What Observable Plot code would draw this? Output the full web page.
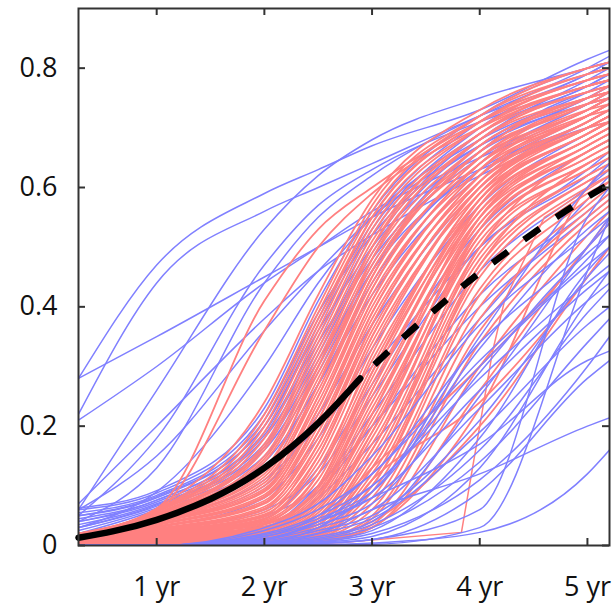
<!DOCTYPE html>
<html><head><meta charset="utf-8">
<script src="https://cdn.jsdelivr.net/npm/d3@7"></script>
<script src="https://cdn.jsdelivr.net/npm/@observablehq/plot@0.6"></script>
<style>body{margin:0;background:#fff}#chart svg{display:block}</style>
</head><body><div id="chart"></div>
<script>
// x in years; each curve's values are read at these knots
const knots = [0.274, 1, 2, 2.5, 3, 4, 5, 5.205];
const xTicks = [1, 2, 3, 4, 5];
const xTickLabels = ["1 yr", "2 yr", "3 yr", "4 yr", "5 yr"];
const yTicks = [0, 0.2, 0.4, 0.6, 0.8];
const yTickLabels = ["0", "0.2", "0.4", "0.6", "0.8"];

const redCurves = [
  [0.02,0.062,0.41,0.53,0.6,0.71,0.78,0.79],
  [0.019,0.058,0.36,0.5,0.59,0.7,0.77,0.78],
  [0.02,0.062,0.24,0.42,0.58,0.73,0.8,0.81],
  [0.02,0.06,0.22,0.40,0.57,0.72,0.79,0.8],
  [0.019,0.059,0.21,0.39,0.56,0.72,0.8,0.81],
  [0.019,0.058,0.2,0.38,0.55,0.71,0.78,0.79],
  [0.018,0.057,0.19,0.37,0.55,0.71,0.79,0.8],
  [0.018,0.056,0.18,0.36,0.54,0.7,0.77,0.78],
  [0.017,0.054,0.17,0.35,0.53,0.7,0.78,0.79],
  [0.017,0.053,0.165,0.34,0.52,0.69,0.76,0.77],
  [0.016,0.052,0.16,0.33,0.51,0.69,0.77,0.78],
  [0.016,0.051,0.15,0.32,0.5,0.68,0.75,0.76],
  [0.015,0.05,0.145,0.31,0.49,0.68,0.76,0.77],
  [0.015,0.049,0.14,0.3,0.48,0.67,0.75,0.76],
  [0.015,0.048,0.13,0.29,0.47,0.66,0.74,0.76],
  [0.014,0.046,0.12,0.28,0.46,0.67,0.75,0.77],
  [0.014,0.045,0.125,0.3,0.5,0.69,0.77,0.78],
  [0.014,0.044,0.115,0.27,0.46,0.65,0.73,0.75],
  [0.013,0.043,0.11,0.26,0.45,0.66,0.75,0.76],
  [0.013,0.042,0.105,0.27,0.48,0.68,0.76,0.77],
  [0.013,0.041,0.1,0.25,0.44,0.64,0.72,0.74],
  [0.012,0.04,0.095,0.24,0.43,0.65,0.74,0.75],
  [0.012,0.039,0.092,0.25,0.45,0.66,0.75,0.76],
  [0.012,0.038,0.09,0.23,0.42,0.63,0.72,0.74],
  [0.011,0.036,0.085,0.22,0.41,0.64,0.73,0.75],
  [0.011,0.035,0.082,0.23,0.43,0.65,0.74,0.76],
  [0.011,0.034,0.08,0.21,0.4,0.62,0.71,0.73],
  [0.01,0.032,0.075,0.2,0.39,0.63,0.73,0.74],
  [0.01,0.031,0.072,0.21,0.41,0.64,0.74,0.75],
  [0.01,0.03,0.07,0.19,0.38,0.61,0.7,0.72],
  [0.009,0.028,0.065,0.18,0.37,0.62,0.72,0.73],
  [0.009,0.027,0.062,0.19,0.39,0.63,0.73,0.75],
  [0.009,0.026,0.06,0.17,0.36,0.6,0.7,0.72],
  [0.008,0.025,0.056,0.16,0.35,0.61,0.71,0.73],
  [0.008,0.024,0.052,0.15,0.34,0.59,0.69,0.71],
  [0.008,0.023,0.05,0.17,0.37,0.62,0.72,0.74],
  [0.007,0.022,0.048,0.14,0.33,0.6,0.7,0.72],
  [0.007,0.021,0.045,0.13,0.31,0.58,0.69,0.71],
  [0.007,0.02,0.044,0.15,0.35,0.61,0.72,0.74],
  [0.007,0.02,0.042,0.12,0.3,0.59,0.7,0.71],
  [0.006,0.019,0.04,0.11,0.29,0.57,0.68,0.7],
  [0.006,0.018,0.038,0.12,0.32,0.6,0.71,0.73],
  [0.006,0.018,0.037,0.1,0.28,0.58,0.69,0.71],
  [0.006,0.017,0.035,0.095,0.27,0.56,0.67,0.69],
  [0.005,0.016,0.032,0.09,0.26,0.57,0.68,0.7],
  [0.005,0.015,0.031,0.1,0.29,0.59,0.7,0.72],
  [0.005,0.015,0.03,0.085,0.25,0.55,0.66,0.68],
  [0.005,0.014,0.028,0.08,0.24,0.56,0.68,0.7],
  [0.004,0.013,0.026,0.075,0.23,0.54,0.66,0.68],
  [0.004,0.012,0.025,0.08,0.26,0.58,0.7,0.72],
  [0.004,0.012,0.024,0.07,0.22,0.55,0.67,0.69],
  [0.004,0.011,0.022,0.065,0.21,0.53,0.65,0.67],
  [0.004,0.01,0.02,0.06,0.2,0.54,0.66,0.68],
  [0.003,0.01,0.018,0.055,0.19,0.52,0.64,0.66],
  [0.003,0.009,0.018,0.06,0.22,0.57,0.69,0.71],
  [0.003,0.009,0.017,0.05,0.18,0.53,0.65,0.67],
  [0.003,0.008,0.016,0.045,0.17,0.51,0.63,0.65],
  [0.003,0.008,0.015,0.04,0.16,0.52,0.64,0.66],
  [0.003,0.007,0.014,0.045,0.19,0.55,0.68,0.7],
  [0.003,0.007,0.014,0.035,0.15,0.5,0.63,0.65],
  [0.002,0.007,0.013,0.03,0.14,0.49,0.62,0.64],
  [0.002,0.006,0.012,0.035,0.16,0.53,0.67,0.69],
  [0.002,0.006,0.012,0.028,0.13,0.48,0.62,0.64],
  [0.002,0.006,0.011,0.025,0.12,0.47,0.61,0.63],
  [0.002,0.005,0.01,0.03,0.13,0.5,0.66,0.68],
  [0.002,0.005,0.01,0.022,0.11,0.46,0.61,0.63],
  [0.002,0.005,0.009,0.02,0.1,0.45,0.6,0.62],
  [0.002,0.004,0.008,0.018,0.09,0.43,0.59,0.61],
  [0.001,0.004,0.008,0.02,0.1,0.47,0.64,0.66],
  [0.001,0.004,0.007,0.016,0.08,0.42,0.58,0.61],
  [0.001,0.003,0.006,0.014,0.07,0.4,0.57,0.6],
  [0.001,0.003,0.005,0.012,0.06,0.38,0.56,0.59],
  [0.001,0.002,0.004,0.01,0.05,0.36,0.55,0.58],
  [0.001,0.002,0.004,0.009,0.045,0.34,0.54,0.57],
  [0,0.001,0.003,0.008,0.035,0.3,0.52,0.56],
  [0,0.001,0.003,0.007,0.03,0.26,0.5,0.54],
  [0,0.001,0.002,0.006,0.11,0.24,0.45,0.5],
  [0,0.001,0.004,0.04,0.13,0.3,0.5,0.55],
  [0,0,0.002,0.01,0.04,0.2,0.45,0.5],
  [0,0,0.001,0.005,0.03,0.23,0.6,0.64]
];

// early / high blue curves, drawn beneath the red ones
const blueCurves = [
  [0.28,0.47,0.59,0.63,0.67,0.73,0.815,0.83],
  [0.22,0.44,0.56,0.6,0.64,0.72,0.79,0.81],
  [0.28,0.35,0.45,0.5,0.55,0.63,0.7,0.71],
  [0.21,0.3,0.44,0.5,0.56,0.65,0.73,0.75],
  [0.06,0.26,0.53,0.62,0.68,0.75,0.8,0.81],
  [0.04,0.13,0.44,0.55,0.62,0.72,0.79,0.8],
  [0.05,0.18,0.47,0.57,0.63,0.71,0.77,0.78],
  [0.06,0.15,0.36,0.46,0.55,0.67,0.75,0.77],
  [0.07,0.2,0.38,0.46,0.52,0.62,0.7,0.72],
  [0.03,0.09,0.3,0.44,0.55,0.68,0.76,0.78],
  [0.02,0.06,0.14,0.27,0.44,0.64,0.74,0.76],
  [0.025,0.063,0.15,0.29,0.46,0.66,0.76,0.77],
  [0.03,0.066,0.16,0.3,0.47,0.67,0.75,0.77],
  [0.035,0.07,0.17,0.32,0.49,0.68,0.78,0.8],
  [0.04,0.073,0.18,0.33,0.5,0.69,0.77,0.79],
  [0.045,0.076,0.19,0.35,0.52,0.7,0.79,0.81],
  [0.05,0.08,0.2,0.36,0.5,0.66,0.74,0.76],
  [0.055,0.084,0.21,0.38,0.54,0.71,0.8,0.82],
  [0.06,0.088,0.22,0.39,0.52,0.67,0.74,0.75],
  [0.063,0.092,0.23,0.41,0.56,0.72,0.8,0.81],
  [0.03,0.068,0.165,0.31,0.46,0.63,0.71,0.73],
  [0.04,0.076,0.185,0.34,0.48,0.65,0.73,0.75],
  [0.05,0.082,0.2,0.37,0.53,0.69,0.77,0.79],
  [0.015,0.05,0.13,0.27,0.42,0.62,0.72,0.74],
  [0.01,0.04,0.1,0.22,0.37,0.6,0.71,0.73],
  [0.012,0.045,0.11,0.2,0.3,0.5,0.63,0.66],
  [0.008,0.03,0.08,0.18,0.33,0.57,0.69,0.71],
  [0.006,0.025,0.06,0.12,0.25,0.5,0.62,0.65],
  [0.005,0.02,0.05,0.1,0.22,0.46,0.6,0.63],
  [0.004,0.015,0.045,0.13,0.27,0.53,0.66,0.68],
  [0.003,0.01,0.035,0.09,0.2,0.42,0.56,0.59],
  [0.003,0.01,0.03,0.1,0.2,0.4,0.55,0.58],
  [0.002,0.008,0.025,0.08,0.17,0.38,0.58,0.62]
];

// late blue curves (flat at zero early), which show on top of the red band
const blueOverCurves = [
  [0,0,0.03,0.07,0.15,0.37,0.52,0.55],
  [0,0,0.025,0.06,0.12,0.34,0.5,0.54],
  [0,0,0.02,0.05,0.1,0.3,0.47,0.5],
  [0,0,0.018,0.045,0.09,0.33,0.53,0.56],
  [0,0,0.015,0.04,0.08,0.26,0.43,0.46],
  [0,0,0.012,0.035,0.07,0.29,0.49,0.52],
  [0,0,0.01,0.03,0.06,0.23,0.41,0.44],
  [0,0,0.008,0.025,0.05,0.21,0.45,0.49],
  [0,0,0.006,0.02,0.045,0.19,0.37,0.4],
  [0,0,0.005,0.015,0.04,0.25,0.5,0.55],
  [0,0,0.004,0.012,0.035,0.16,0.39,0.43],
  [0,0,0.003,0.01,0.03,0.14,0.34,0.38],
  [0,0,0.002,0.008,0.025,0.18,0.46,0.5],
  [0,0,0.002,0.006,0.02,0.11,0.3,0.35],
  [0,0,0.001,0.005,0.015,0.13,0.41,0.46],
  [0,0,0.001,0.004,0.01,0.09,0.28,0.31],
  [0,0,0.003,0.02,0.06,0.12,0.2,0.214],
  [0,0,0.01,0.04,0.08,0.17,0.31,0.326],
  [0,0,0,0.001,0.004,0.022,0.12,0.16],
  [0,0,0,0.001,0.002,0.03,0.46,0.55],
  [0,0,0,0.003,0.01,0.06,0.55,0.6],
  [0,0,0.015,0.05,0.12,0.31,0.48,0.52],
  [0,0,0.01,0.04,0.1,0.28,0.44,0.47],
  [0,0,0.005,0.03,0.09,0.35,0.6,0.64]
];

// one red curve with a late, abrupt rise (own sample points)
const redJumpX = [0.274, 2.0, 2.73, 3.83, 4.12, 4.23, 4.6, 5.205];
const redJumpY = [0, 0, 0.005, 0.022, 0.326, 0.41, 0.55, 0.62];

// mean curve: solid part, then dashed extrapolation
const meanSolidX = [0.274, 0.6, 1, 1.5, 2, 2.5, 2.89];
const meanSolidY = [0.013, 0.024, 0.043, 0.078, 0.13, 0.205, 0.28];
const meanDashX = [2.89, 3.3, 3.7, 4, 4.5, 5, 5.205];
const meanDashY = [0.28, 0.35, 0.413, 0.457, 0.524, 0.584, 0.605];

const RED = "#ff8080", BLUE = "#8080ff";

function toRows(curves, prefix) {
  const out = [];
  curves.forEach((vals, i) => vals.forEach((v, k) => out.push({id: prefix + i, x: knots[k], y: v})));
  return out;
}
const blueRows = toRows(blueCurves, "b");
const redRows = toRows(redCurves, "r");
const blueOverRows = toRows(blueOverCurves, "o");
const jump = redJumpX.map((x, i) => ({x, y: redJumpY[i]}));
const meanSolid = meanSolidX.map((x, i) => ({x, y: meanSolidY[i]}));
const meanDash = meanDashX.map((x, i) => ({x, y: meanDashY[i]}));

const innerW = 613 - 78 - 4, innerH = 603 - 8 - 58;
const FRAME = "#333";
const lineOpts = {x: "x", y: "y", z: "id", strokeWidth: 1.5, curve: "monotone-x", clip: true};

const chart = Plot.plot({
  width: 613, height: 603,
  marginLeft: 78, marginRight: 4, marginTop: 8, marginBottom: 58,
  style: {fontFamily: "'Open Sans', sans-serif", background: "#fff", color: "#111"},
  x: {domain: [0.274, 5.205]},
  y: {domain: [0, 0.9]},
  marks: [
    Plot.line(blueRows, {...lineOpts, stroke: BLUE}),
    Plot.line(redRows, {...lineOpts, stroke: RED, strokeWidth: 1.8}),
    Plot.line(jump, {x: "x", y: "y", stroke: RED, strokeWidth: 1.5, clip: true}),
    Plot.line(blueOverRows, {...lineOpts, stroke: BLUE}),
    Plot.line(meanSolid, {x: "x", y: "y", stroke: "#000", strokeWidth: 6.5, curve: "natural"}),
    Plot.line(meanDash, {x: "x", y: "y", stroke: "#000", strokeWidth: 6.5, curve: "natural", strokeDasharray: "19,20", strokeDashoffset: 19, strokeLinecap: "butt", clip: true}),
    Plot.frame({stroke: FRAME, strokeWidth: 2}),
    Plot.tickY(yTicks, {y: d => d, insetRight: innerW - 7, stroke: FRAME, strokeWidth: 2}),
    Plot.tickY(yTicks, {y: d => d, insetLeft: innerW - 7, stroke: FRAME, strokeWidth: 2}),
    Plot.tickX(xTicks, {x: d => d, insetBottom: innerH - 7, stroke: FRAME, strokeWidth: 2}),
    Plot.tickX(xTicks, {x: d => d, insetTop: innerH - 7, stroke: FRAME, strokeWidth: 2}),
    Plot.axisY(yTicks, {anchor: "left", label: null, tickSize: 0, tickPadding: 21, fontSize: 27, tickFormat: d => yTickLabels[yTicks.indexOf(d)]}),
    Plot.axisX(xTicks, {anchor: "bottom", label: null, tickSize: 0, tickPadding: 31, fontSize: 27, tickFormat: d => xTickLabels[xTicks.indexOf(d)]})
  ]
});
document.getElementById("chart").appendChild(chart);
</script>
</body></html>
